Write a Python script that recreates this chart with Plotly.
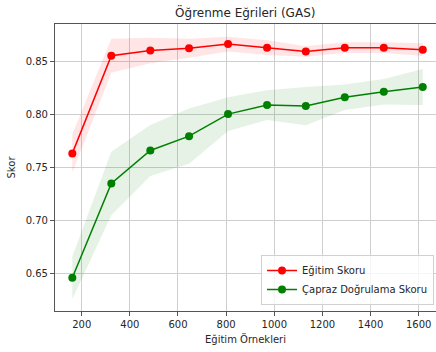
import plotly.graph_objects as go

train_sizes = [161, 323, 485, 646, 808, 970, 1131, 1293, 1455, 1617]
train_mean = [0.763, 0.855, 0.860, 0.862, 0.866, 0.8626, 0.859, 0.8626, 0.8626, 0.8607]
train_std = [0.018, 0.016, 0.012, 0.009, 0.007, 0.007, 0.005, 0.005, 0.005, 0.006]
cv_mean = [0.6458, 0.7346, 0.7657, 0.7792, 0.800, 0.8085, 0.8076, 0.8158, 0.821, 0.8255]
cv_std = [0.020, 0.030, 0.024, 0.026, 0.016, 0.014, 0.018, 0.012, 0.012, 0.017]

title = "Öğrenme Eğrileri (GAS)"
x_title = "Eğitim Örnekleri"
y_title = "Skor"
train_name = "Eğitim Skoru"
cv_name = "Çapraz Doğrulama Skoru"
x_ticks = [200, 400, 600, 800, 1000, 1200, 1400, 1600]
y_ticks = [0.65, 0.70, 0.75, 0.80, 0.85]

FONT = "DejaVu Sans"
TXT = "#262626"

def band(x, m, s, color):
    upper = [a + b for a, b in zip(m, s)]
    lower = [a - b for a, b in zip(m, s)]
    return go.Scatter(x=list(x) + list(x)[::-1], y=upper + lower[::-1],
                      fill="toself", fillcolor=color, line=dict(width=0),
                      mode="lines", hoverinfo="skip", showlegend=False)

fig = go.Figure()
fig.add_trace(band(train_sizes, train_mean, train_std, "rgba(255,0,0,0.1)"))
fig.add_trace(band(train_sizes, cv_mean, cv_std, "rgba(0,128,0,0.1)"))
fig.add_trace(go.Scatter(x=train_sizes, y=train_mean, mode="lines+markers", name=train_name,
                         line=dict(color="red", width=1.5), marker=dict(color="red", size=8)))
fig.add_trace(go.Scatter(x=train_sizes, y=cv_mean, mode="lines+markers", name=cv_name,
                         line=dict(color="green", width=1.5), marker=dict(color="green", size=8)))

axis_common = dict(showgrid=True, gridcolor="#cfcfcf", gridwidth=1, zeroline=False,
                   showline=True, linecolor="#555555", linewidth=1.2,
                   ticks="outside", ticklen=4, tickcolor="#555555",
                   tickfont=dict(family=FONT, size=10, color=TXT))

fig.update_layout(
    width=436, height=352,
    margin=dict(l=55, r=0, t=24, b=41),
    paper_bgcolor="white", plot_bgcolor="white",
    font=dict(family=FONT, size=10, color=TXT),
    title=dict(text=title, x=0.5625, xanchor="center", y=1 - 13/352, yanchor="middle",
               font=dict(family=FONT, size=12, color=TXT)),
    xaxis=dict(range=[89.1, 1671.9], tickvals=x_ticks, mirror=True,
               title=dict(text=x_title, font=dict(family=FONT, size=10, color=TXT), standoff=6),
               **axis_common),
    yaxis=dict(range=[0.6145, 0.8849], tickvals=y_ticks, tickformat=".2f", mirror=False,
               title=dict(text=y_title, font=dict(family=FONT, size=10, color=TXT), standoff=8),
               **axis_common),
    legend=dict(x=0.9948, y=0.0209, xanchor="right", yanchor="bottom",
                bgcolor="rgba(255,255,255,0.8)", bordercolor="#d0d0d0", borderwidth=1,
                font=dict(family=FONT, size=10, color=TXT), tracegroupgap=0,
                itemwidth=30),
)

fig.write_html("out.html")
